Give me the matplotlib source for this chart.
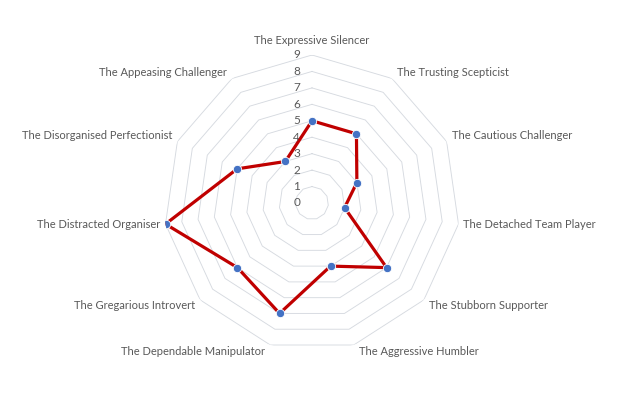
import numpy as np
import matplotlib
matplotlib.use("Agg")
import matplotlib.pyplot as plt
from matplotlib.transforms import offset_copy

categories = ["The Expressive Silencer", "The Trusting Scepticist", "The Cautious Challenger",
              "The Detached Team Player", "The Stubborn Supporter", "The Aggressive Humbler",
              "The Dependable Manipulator", "The Gregarious Introvert", "The Distracted Organiser",
              "The Disorganised Perfectionist", "The Appeasing Challenger"]
values = [5, 5, 3, 2, 6, 4, 7, 6, 9, 5, 3]
ticks = list(range(0, 10))

W, H, DPI = 624, 407, 100
fig = plt.figure(figsize=(W / DPI, H / DPI), dpi=DPI)
cx, cy, R = 312, 203, 148
ax = fig.add_axes([(cx - R) / W, (H - cy - R) / H, 2 * R / W, 2 * R / H], projection="polar")
ax.set_theta_zero_location("N")
ax.set_theta_direction(-1)
ax.set_ylim(0, 9)
ax.grid(False)
ax.spines["polar"].set_visible(False)
ax.set_xticks([])
ax.set_yticks([])
ax.patch.set_alpha(0)

n = len(categories)
ang = np.arange(n) * 2 * np.pi / n
ang_c = np.append(ang, ang[0])

for r in ticks[1:]:
    ax.plot(ang_c, [r] * (n + 1), color="#D6DAE0", lw=0.65, zorder=1, solid_joinstyle="miter")

vals_c = values + values[:1]
ax.plot(ang_c, vals_c, color="#C00000", lw=2.3, zorder=3, solid_joinstyle="round")
ax.plot(ang, values, linestyle="none", marker="o", ms=6, mfc="#4472C4",
        mec="#FFFFFF", mew=0.6, zorder=4)

font = "Lato"
tc = "#595959"
for t in ticks:
    tr = offset_copy(ax.transData, fig=fig, x=-12, y=0, units="dots")
    ax.text(0, t, str(t), transform=tr, ha="right", va="center", fontsize=8.5,
            color=tc, family=font)

for a, lab in zip(ang, categories):
    s, c = np.sin(a), np.cos(a)
    if abs(s) < 1e-6:
        ha = "center"
        dx = 0
    elif s > 0:
        ha = "left"
        dx = 5
    else:
        ha = "right"
        dx = -5
    if abs(s) < 1e-6 and c > 0:
        dy = 14
    else:
        dy = 6 * np.sign(c) if abs(c) > 0.3 else 0
    tr = offset_copy(ax.transData, fig=fig, x=dx, y=dy, units="dots")
    ax.text(a, 9, lab, transform=tr, ha=ha, va="center", fontsize=8,
            color=tc, family=font)

fig.savefig("out.png", dpi=DPI)
